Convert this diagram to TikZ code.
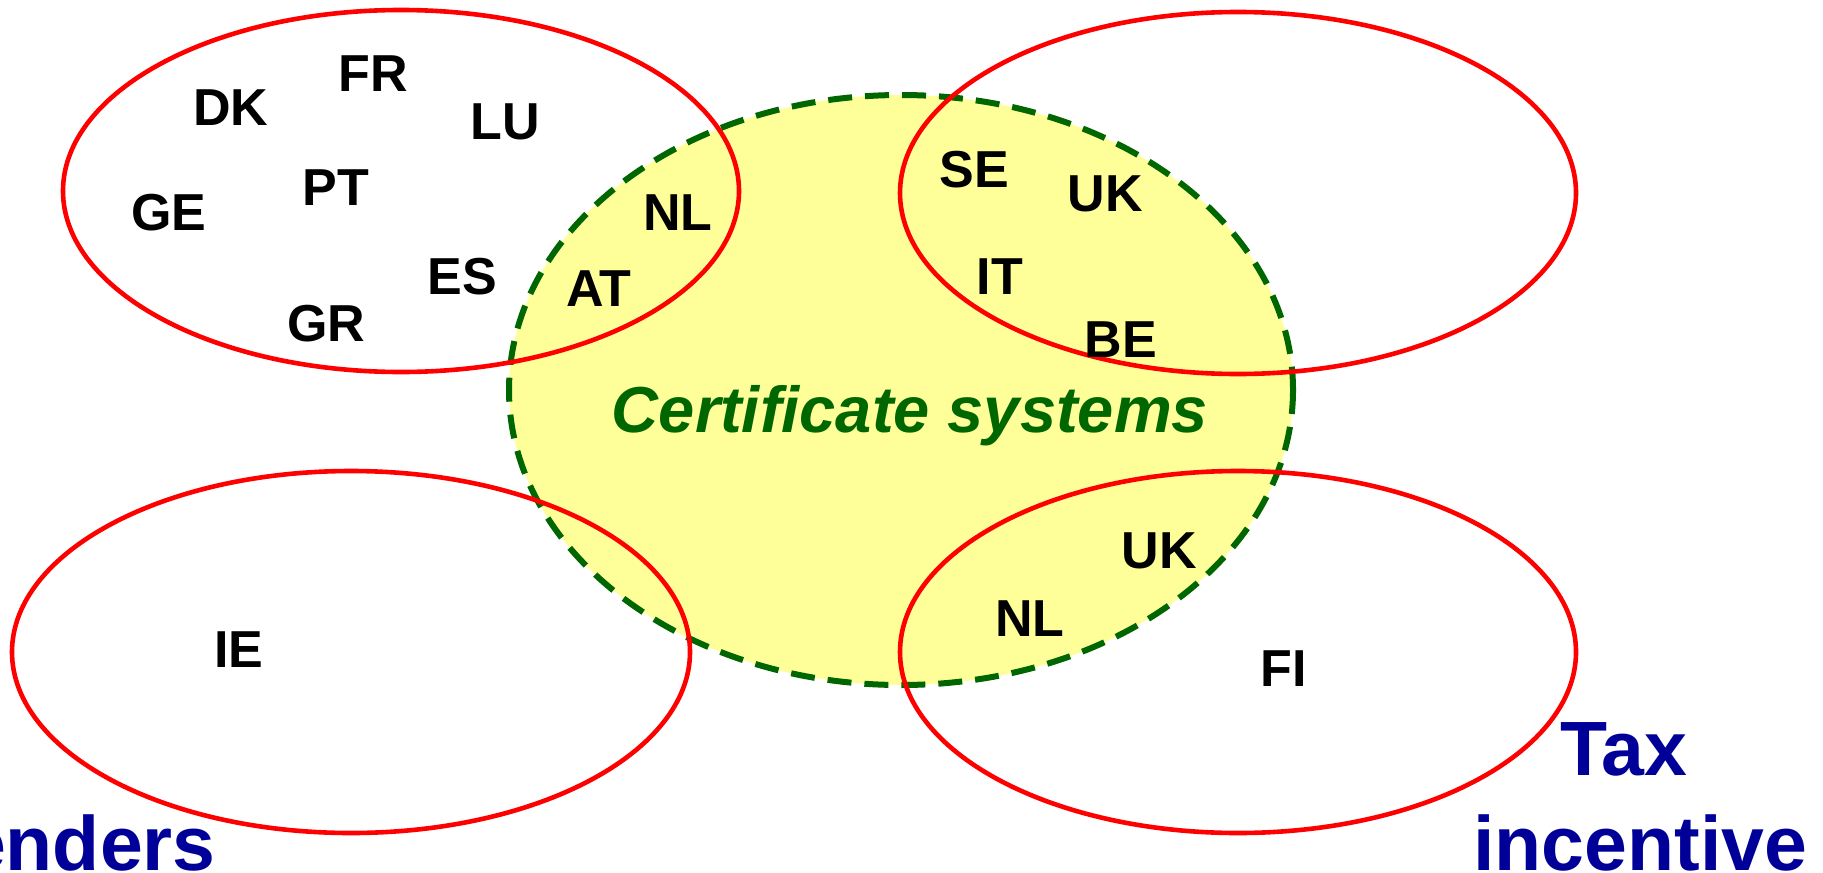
\documentclass[tikz,border=0pt]{standalone}
\usepackage{fontspec}
\setmainfont{Liberation Sans}
\definecolor{redline}{HTML}{FF0000}
\definecolor{certgreen}{HTML}{006600}
\definecolor{certfill}{HTML}{FFFF99}
\definecolor{labelblue}{HTML}{000099}
\begin{document}
\begin{tikzpicture}[x=0.5pt,y=-0.5pt,
  group/.style={draw=redline,line width=2.3pt},
  certset/.style={draw=certgreen,fill=certfill,line width=3pt,dash pattern=on 12pt off 6.5pt},
  country/.style={inner sep=0pt,anchor=base,font=\bfseries\fontsize{26}{31}\selectfont},
  certlabel/.style={inner sep=0pt,anchor=base,text=certgreen,font=\bfseries\itshape\fontsize{32.5}{39}\selectfont},
  policy/.style={inner sep=0pt,text=labelblue,font=\bfseries\fontsize{38.5}{46}\selectfont}]
\useasboundingbox[fill=white] (0,0) rectangle (1823,872);
% certificate systems set
\path[certset] (901,390) ellipse [x radius=392, y radius=295];
% red groups
\draw[group] (401,191) ellipse [x radius=338, y radius=181];
\draw[group] (1238,193) ellipse [x radius=338, y radius=181];
\draw[group] (351,652) ellipse [x radius=339, y radius=181];
\draw[group] (1238,652) ellipse [x radius=338, y radius=181];
% labels
\node[certlabel] (cert) at (910,432) {Certificate systems};
\node[country] (fr) at (373,91) {FR};
\node[country] (dk) at (231,126) {DK};
\node[country] (lu) at (505,139) {LU};
\node[country] (pt) at (336,205) {PT};
\node[country] (ge) at (169,230) {GE};
\node[country] (nl1) at (678,230) {NL};
\node[country] (es) at (462,294) {ES};
\node[country] (at) at (599,306) {AT};
\node[country] (gr) at (326,341) {GR};
\node[country] (se) at (974,187) {SE};
\node[country] (uk1) at (1105,211) {UK};
\node[country] (it) at (1000,294) {IT};
\node[country] (be) at (1121,357) {BE};
\node[country] (uk2) at (1159,568) {UK};
\node[country] (nl2) at (1030,636) {NL};
\node[country] (fi) at (1284,686) {FI};
\node[country] (ie) at (239,667) {IE};
\node[policy,anchor=base east] (tenders) at (216,870) {enders};
\node[policy,anchor=base west] (tax) at (1560,775) {Tax};
\node[policy,anchor=base west] (incentive) at (1473,870) {incentive};
\end{tikzpicture}
\end{document}
